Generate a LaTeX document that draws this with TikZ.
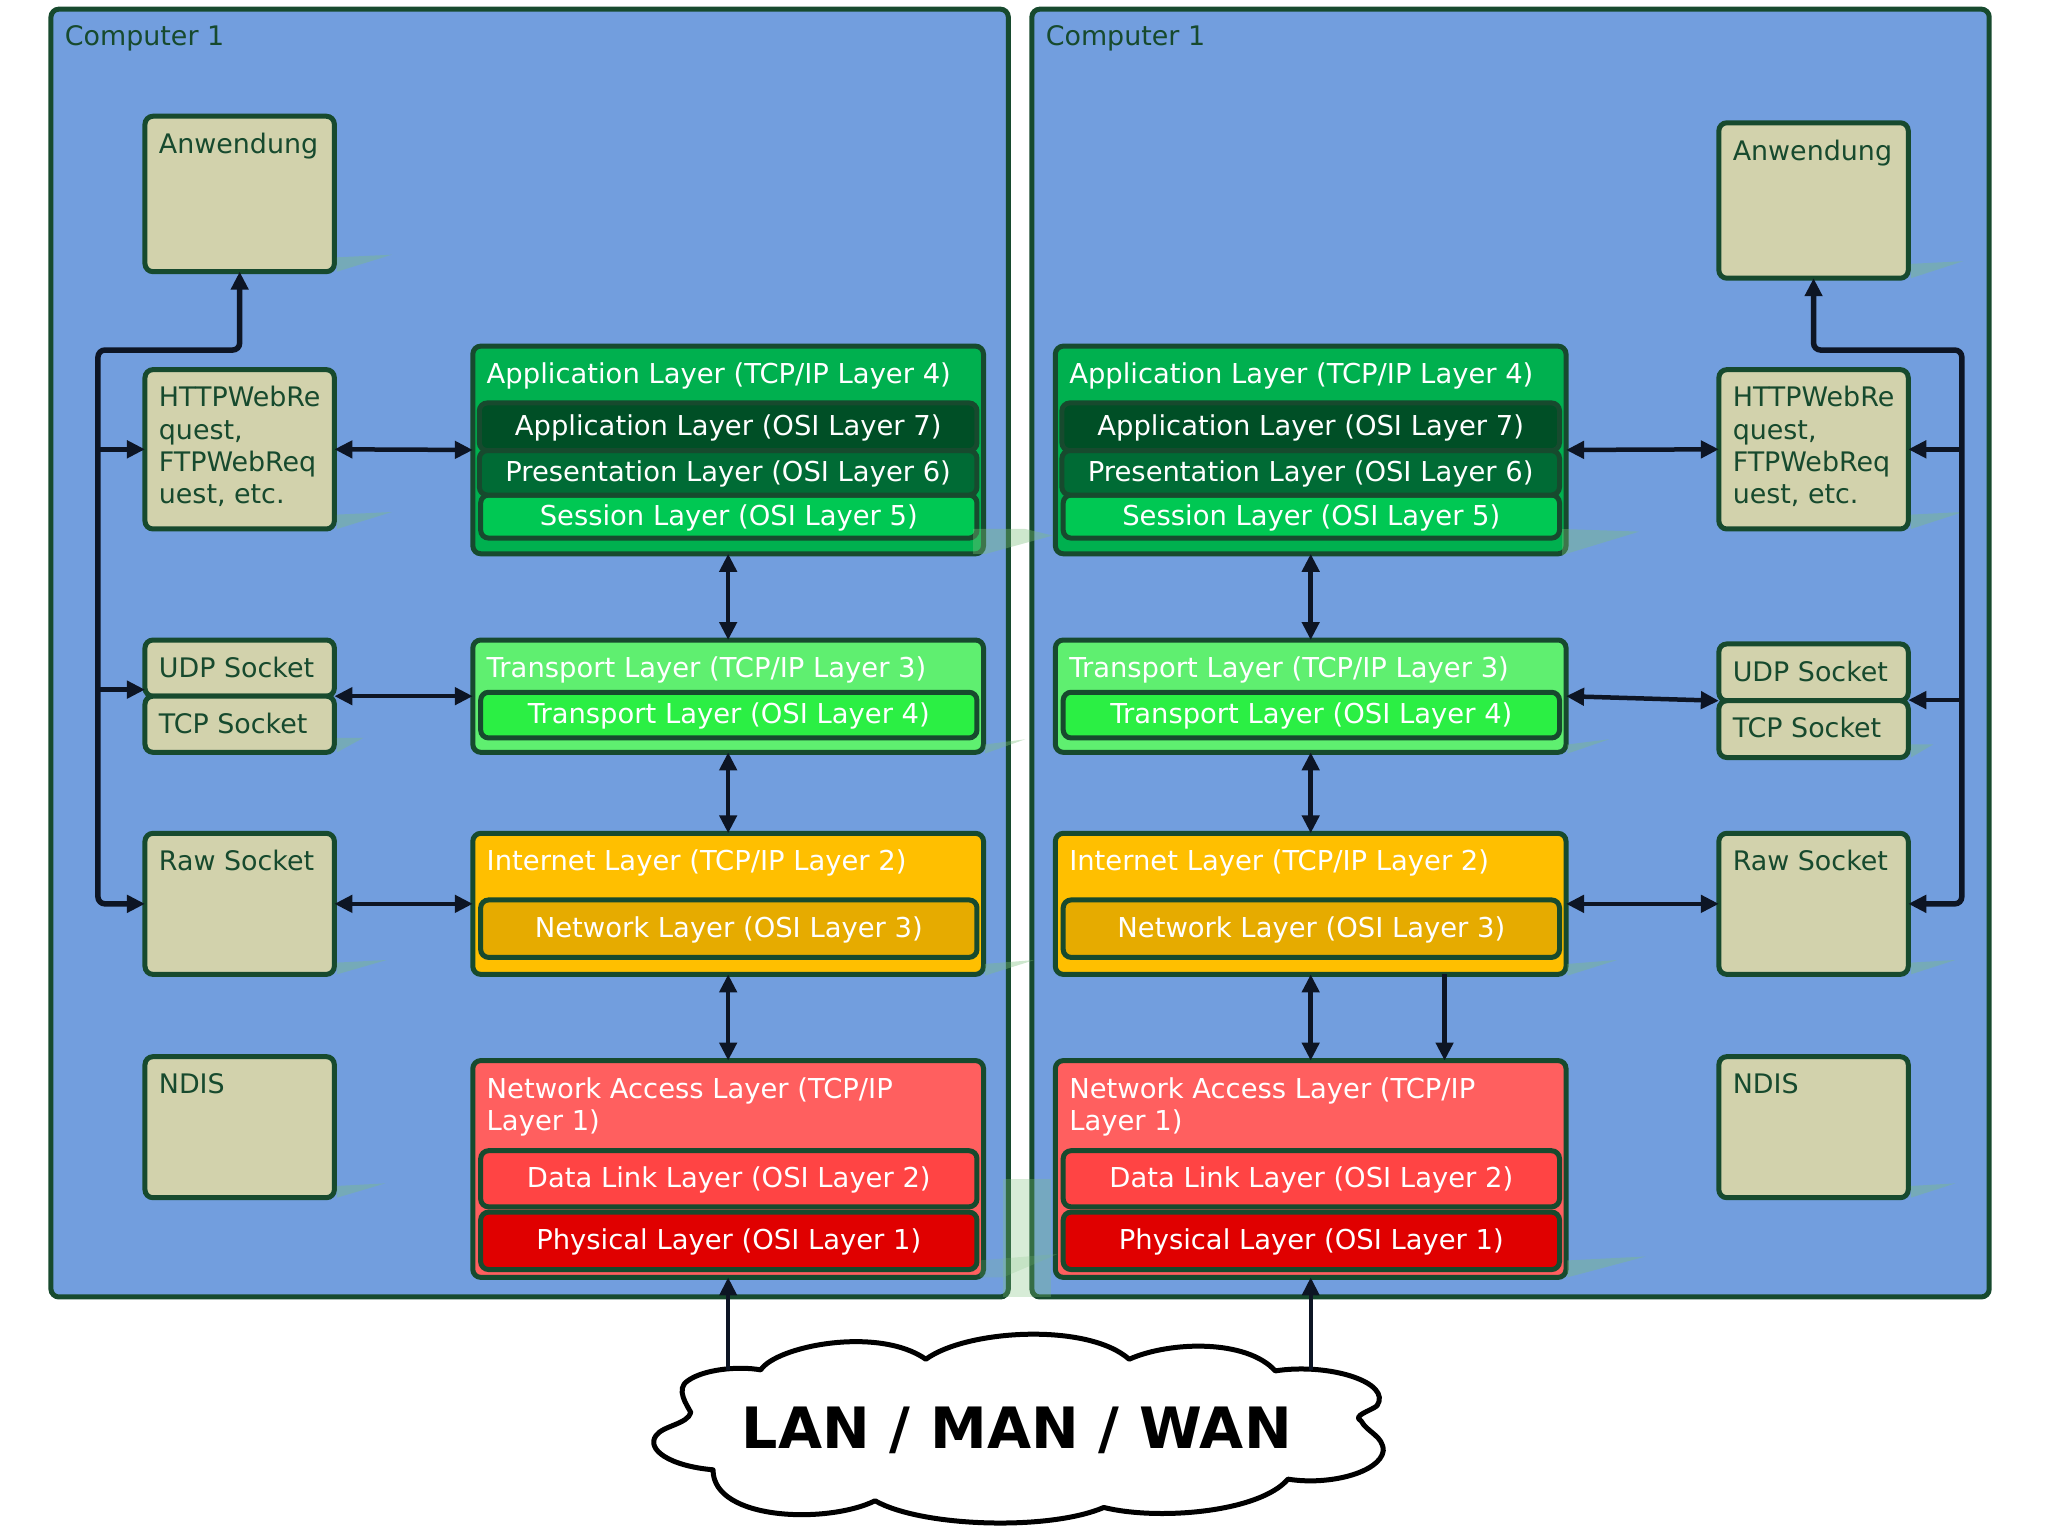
\documentclass[tikz,border=0pt]{standalone}
\usepackage{fontspec}
\setmainfont{DejaVu Sans}
\usetikzlibrary{arrows.meta}
\definecolor{edge}{HTML}{174A2E}
\definecolor{wire}{HTML}{0D1524}
\definecolor{compfill}{HTML}{729EDE}
\definecolor{tan}{HTML}{D2D2AC}
\definecolor{tcpA}{HTML}{00B04F}
\definecolor{tcpT}{HTML}{5FEF70}
\definecolor{tcpI}{HTML}{FFBF00}
\definecolor{tcpN}{HTML}{FF5F5F}
\definecolor{osiS}{HTML}{00C853}
\definecolor{osiP}{HTML}{006B35}
\definecolor{osiA}{HTML}{004F26}
\definecolor{osiT}{HTML}{2BEF44}
\definecolor{osiN}{HTML}{E6AB00}
\definecolor{osiD}{HTML}{FF4444}
\definecolor{osiH}{HTML}{E00000}
\definecolor{ghost}{HTML}{7CC07C}
\tikzset{
  box/.style={draw=edge,line width=5pt,rounded corners=8pt,inner sep=0pt,outer sep=0pt},
  comp/.style={box,fill=compfill},
  app/.style={box,fill=tan},
  title/.style={inner sep=0pt,anchor=north west,align=left,text=edge,font=\fontsize{26.9}{32.2}\selectfont},
  titlew/.style={title,text=white,font=\fontsize{27.4}{32.2}\selectfont},
  osi/.style={box,text=white,font=\fontsize{27.4}{32.7}\selectfont,text height=22pt,text depth=5pt},
  wirestyle/.style={draw=wire,line width=4.5pt},
  two/.style={wirestyle,{Triangle[length=18pt,width=17pt]}-{Triangle[length=18pt,width=17pt]}},
  one/.style={wirestyle,-{Triangle[length=18pt,width=17pt]}},
  bus/.style={wirestyle,line width=5.5pt,rounded corners=7pt},
  ghostp/.style={fill=ghost,draw=none,opacity=.38},
}
\newcommand\mkbox[7][]{%
  \node[#6,minimum width={(#4-#2)*1.30612pt},minimum height={(#5-#3)*1.30612pt},#1]
    (#7) at ({(#2+#4)/2},{(#3+#5)/2}) {};}
\newcommand\titled[7]{%
  \mkbox{#2}{#3}{#4}{#5}{#6}{#1}
  \node[title] (#1t) at ([shift={(10.5,12.7)}]#1.north west) {\rule{0pt}{18pt}#7};}
\newcommand\titledw[7]{%
  \mkbox{#2}{#3}{#4}{#5}{#6}{#1}
  \node[titlew] (#1t) at ([shift={(10.5,12.7)}]#1.north west) {\rule{0pt}{18pt}#7};}
\newcommand\inner[7]{%
  \node[osi,fill=#6,minimum width={(#4-#2)*1.30612pt},minimum height={(#5-#3)*1.30612pt}]
    (#1) at ({(#2+#4)/2},{(#3+#5)/2}) {#7};}
\begin{document}
\begin{tikzpicture}[x=1.30612pt,y=-1.30612pt]
\useasboundingbox (0,0) rectangle (1568,1176);
% computers
\titled{compL}{39}{7}{772}{993}{comp}{Computer 1}
\titled{compR}{790}{7}{1523}{993}{comp}{Computer 1}
% left apps
\titled{anwL}{111}{89}{256}{208}{app}{Anwendung}
\titled{httpL}{111}{283}{256}{405}{app}{HTTPWebRe\\quest,\\FTPWebReq\\uest, etc.}
\titled{udpL}{111}{490}{256}{533}{app}{UDP Socket}
\titled{tcpL}{111}{533}{256}{576}{app}{TCP Socket}
\titled{rawL}{111}{638}{256}{746}{app}{Raw Socket}
\titled{ndisL}{111}{809}{256}{917}{app}{NDIS}
% right apps
\titled{anwR}{1316}{94}{1461}{213}{app}{Anwendung}
\titled{httpR}{1316}{283}{1461}{405}{app}{HTTPWebRe\\quest,\\FTPWebReq\\uest, etc.}
\titled{udpR}{1316}{493}{1461}{536.5}{app}{UDP Socket}
\titled{tcpR}{1316}{536.5}{1461}{580}{app}{TCP Socket}
\titled{rawR}{1316}{638}{1461}{746}{app}{Raw Socket}
\titled{ndisR}{1316}{809}{1461}{917}{app}{NDIS}
% left stack
\titledw{aL}{362}{265}{753}{424}{box,fill=tcpA}{Application Layer (TCP/IP Layer 4)}
\inner{a7L}{367}{308.5}{748}{345}{osiA}{Application Layer (OSI Layer 7)}
\inner{a5L}{368}{379}{748}{412}{osiS}{Session Layer (OSI Layer 5)}
\inner{a6L}{367}{345}{748}{379}{osiP}{Presentation Layer (OSI Layer 6)}
\titledw{tL}{362}{490}{753}{576}{box,fill=tcpT}{Transport Layer (TCP/IP Layer 3)}
\inner{t4L}{368}{530}{748}{565}{osiT}{Transport Layer (OSI Layer 4)}
\titledw{iL}{362}{638}{753}{746}{box,fill=tcpI}{Internet Layer (TCP/IP Layer 2)}
\inner{i3L}{368}{689}{748}{733}{osiN}{Network Layer (OSI Layer 3)}
\titledw{nL}{362}{812}{753}{978}{box,fill=tcpN}{Network Access Layer (TCP/IP\\Layer 1)}
\inner{n2L}{368}{881}{748}{924}{osiD}{Data Link Layer (OSI Layer 2)}
\inner{n1L}{368}{928}{748}{972}{osiH}{Physical Layer (OSI Layer 1)}
% right stack
\titledw{aR}{808}{265}{1199}{424}{box,fill=tcpA}{Application Layer (TCP/IP Layer 4)}
\inner{a7R}{813}{308.5}{1194}{345}{osiA}{Application Layer (OSI Layer 7)}
\inner{a5R}{814}{379}{1194}{412}{osiS}{Session Layer (OSI Layer 5)}
\inner{a6R}{813}{345}{1194}{379}{osiP}{Presentation Layer (OSI Layer 6)}
\titledw{tR}{808}{490}{1199}{576}{box,fill=tcpT}{Transport Layer (TCP/IP Layer 3)}
\inner{t4R}{814}{530}{1194}{565}{osiT}{Transport Layer (OSI Layer 4)}
\titledw{iR}{808}{638}{1199}{746}{box,fill=tcpI}{Internet Layer (TCP/IP Layer 2)}
\inner{i3R}{814}{689}{1194}{733}{osiN}{Network Layer (OSI Layer 3)}
\titledw{nR}{808}{812}{1199}{978}{box,fill=tcpN}{Network Access Layer (TCP/IP\\Layer 1)}
\inner{n2R}{814}{881}{1194}{924}{osiD}{Data Link Layer (OSI Layer 2)}
\inner{n1R}{814}{928}{1194}{972}{osiH}{Physical Layer (OSI Layer 1)}
% faint wedges
\fill[ghostp] (258,197)--(300,195)--(258,208)--cycle;
\fill[ghostp] (258,394)--(300,392)--(258,405)--cycle;
\fill[ghostp] (258,565)--(278,565)--(258,576)--cycle;
\fill[ghostp] (258,737)--(296,735)--(258,746)--cycle;
\fill[ghostp] (258,908)--(295,906)--(258,917)--cycle;
\fill[ghostp] (745,405)--(785,405)--(806,410)--(755,424)--(745,424)--cycle;
\fill[ghostp] (754,570)--(785,566)--(754,577)--cycle;
\fill[ghostp] (754,738)--(792,735)--(754,747)--cycle;
\fill[ghostp,opacity=.3] (768,903)--(805,903)--(805,993)--(768,993)--cycle;
\fill[ghostp,opacity=.2] (750,965)--(810,960)--(768,978)--(750,978)--cycle;
\fill[ghostp] (1196,405)--(1255,407)--(1196,425)--cycle;
\fill[ghostp] (1200,570)--(1232,566)--(1200,577)--cycle;
\fill[ghostp] (1200,738)--(1238,735)--(1200,747)--cycle;
\fill[ghostp] (1200,965)--(1260,962)--(1200,978)--cycle;
\fill[ghostp] (1463,202)--(1503,200)--(1463,213)--cycle;
\fill[ghostp] (1463,394)--(1503,392)--(1463,405)--cycle;
\fill[ghostp] (1463,570)--(1480,570)--(1463,580)--cycle;
\fill[ghostp] (1463,737)--(1497,735)--(1463,746)--cycle;
\fill[ghostp] (1463,908)--(1497,906)--(1463,917)--cycle;
% cloud
\begin{scope}[shift={(385.4,880)},xscale=.4864,yscale=.255]
\filldraw[draw=black,fill=white,line width=5pt,line join=round]
 (405,662) .. controls (430,590) and (590,530) .. (665,630)
 .. controls (730,540) and (920,520) .. (985,630)
 .. controls (1050,575) and (1170,570) .. (1215,665)
 .. controls (1300,640) and (1400,700) .. (1375,770)
 .. controls (1365,785) and (1335,800) .. (1350,815)
 .. controls (1360,850) and (1385,860) .. (1385,905)
 .. controls (1380,970) and (1300,1010) .. (1235,990)
 .. controls (1190,1090) and (1030,1115) .. (945,1075)
 .. controls (860,1145) and (660,1135) .. (585,1055)
 .. controls (510,1125) and (330,1115) .. (330,962)
 .. controls (260,950) and (225,900) .. (240,860)
 .. controls (250,830) and (290,825) .. (295,790)
 .. controls (290,770) and (270,720) .. (290,695)
 .. controls (315,660) and (370,650) .. (405,662) -- cycle;
\end{scope}
\node[inner sep=0pt,font=\bfseries\fontsize{57}{60}\selectfont,text=black] (cloud) at (778.5,1095) {LAN / MAN / WAN};
\coordinate (cloudL) at (557.5,1049);
\coordinate (cloudR) at (1003.5,1049);
% junctions
\coordinate (sockL) at (udpL.south east);
\coordinate (sockR) at (udpR.south west);
\coordinate (busLtop) at (75,268);
\coordinate (busRtop) at (1502,268);
\coordinate (busLsock) at (111,528);
\coordinate (busRsock) at (1461,536);
\coordinate (nRa) at (1106,746);
\coordinate (nRb) at (1106,812);
% left connectors
\draw[two] (httpL.east) -- (aL.west);
\draw[two] (sockL) -- (tL.west);
\draw[two] (rawL.east) -- (iL.west);
\draw[two] (aL.south) -- (tL.north);
\draw[two] (tL.south) -- (iL.north);
\draw[two] (iL.south) -- (nL.north);
\draw[bus,{Triangle[length=18pt,width=17pt]}-{Triangle[length=18pt,width=17pt]}] (rawL.west) -| (busLtop) -| (anwL.south);
\draw[bus,sharp corners,-{Triangle[length=18pt,width=17pt]},line width=4.5pt] (busLtop |- httpL.west) -- (httpL.west);
\draw[bus,sharp corners,-{Triangle[length=18pt,width=17pt]},line width=4.5pt] (busLtop |- busLsock) -- (busLsock);
\draw[one,line width=4pt] (cloudL) -- (nL.south);
% right connectors
\draw[two] (httpR.west) -- (aR.east);
\draw[two] (sockR) -- (tR.east);
\draw[two] (rawR.west) -- (iR.east);
\draw[two] (aR.south) -- (tR.north);
\draw[two] (tR.south) -- (iR.north);
\draw[two] (iR.south) -- (nR.north);
\draw[one] (nRa) -- (nRb);
\draw[bus,{Triangle[length=18pt,width=17pt]}-{Triangle[length=18pt,width=17pt]}] (rawR.east) -| (busRtop) -| (anwR.south);
\draw[bus,sharp corners,-{Triangle[length=18pt,width=17pt]},line width=4.5pt] (busRtop |- httpR.east) -- (httpR.east);
\draw[bus,sharp corners,-{Triangle[length=18pt,width=17pt]},line width=4.5pt] (busRtop |- busRsock) -- (busRsock);
\draw[one,line width=4pt] (cloudR) -- (nR.south);
\end{tikzpicture}
\end{document}
